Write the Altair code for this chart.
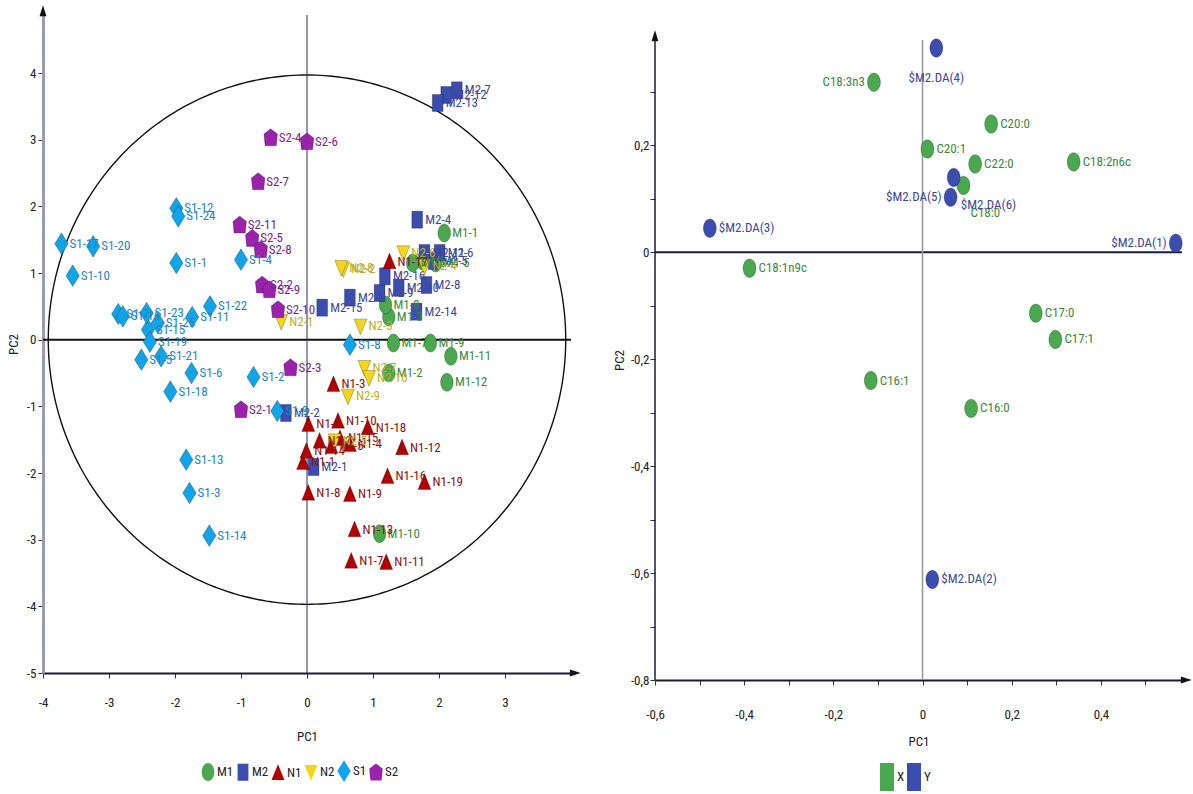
import altair as alt
import numpy as np
import pandas as pd

FONT = "Liberation Sans Narrow, Roboto Condensed, Liberation Sans, sans-serif"

# ---------------- score plot (t1 / t2) ----------------
M1_NAMES = ["M1-1", "M1-2", "M1-3", "M1-4", "M1-5", "M1-6", "M1-7", "M1-8", "M1-9", "M1-10", "M1-11", "M1-12"]
M1_PC1 = [2.08, 1.24, 1.24, 1.75, 1.95, 1.60, 1.31, 1.19, 1.87, 1.10, 2.18, 2.12]
M1_PC2 = [1.60, -0.50, 0.34, 1.18, 1.15, 1.15, -0.05, 0.52, -0.05, -2.91, -0.25, -0.64]

M2_NAMES = ["M2-1", "M2-2", "M2-3", "M2-4", "M2-5", "M2-6", "M2-7", "M2-8", "M2-9", "M2-10",
            "M2-11", "M2-12", "M2-13", "M2-14", "M2-15", "M2-16"]
M2_PC1 = [0.10, -0.32, 0.65, 1.67, 1.92, 2.01, 2.27, 1.81, 1.10, 1.39, 1.78, 2.11, 1.98, 1.66, 0.23, 1.18]
M2_PC2 = [-1.91, -1.10, 0.63, 1.80, 1.18, 1.30, 3.74, 0.82, 0.70, 0.78, 1.30, 3.67, 3.55, 0.42, 0.48, 0.95]

N1_NAMES = ["N1-1", "N1-2", "N1-3", "N1-4", "N1-5", "N1-6", "N1-7", "N1-8", "N1-9", "N1-10",
            "N1-11", "N1-12", "N1-13", "N1-14", "N1-15", "N1-16", "N1-17", "N1-18", "N1-19"]
N1_PC1 = [-0.06, 0.19, 0.40, 0.65, 0.37, 0.02, 0.67, 0.02, 0.65, 0.47, 1.20, 1.44, 0.72, -0.01, 0.50, 1.22, 1.25, 0.92, 1.78]
N1_PC2 = [-1.84, -1.52, -0.67, -1.57, -1.60, -1.27, -3.32, -2.30, -2.32, -1.22, -3.34, -1.62, -2.85, -1.67, -1.48, -2.05, 1.17, -1.32, -2.14]

N2_NAMES = ["N2-1", "N2-2", "N2-3", "N2-4", "N2-5", "N2-6", "N2-7", "N2-8", "N2-9", "N2-10"]
N2_PC1 = [-0.39, 0.55, 0.81, 1.78, 0.42, 1.46, 0.87, 0.52, 0.62, 0.94]
N2_PC2 = [0.27, 1.06, 0.20, 1.10, -1.52, 1.30, -0.42, 1.08, -0.85, -0.57]

S1_NAMES = ["S1-%d" % i for i in range(1, 26)]
S1_PC1 = [-1.98, -0.81, -1.78, -1.00, -2.51, -1.75, -2.86, 0.65, -0.45, -3.55, -1.74, -1.98, -1.83,
          -1.48, -2.41, -2.79, -3.72, -2.07, -2.38, -3.24, -2.21, -1.47, -2.43, -1.95, -2.26]
S1_PC2 = [1.15, -0.56, -2.30, 1.20, -0.30, -0.50, 0.385, -0.075, -1.07, 0.96, 0.34, 1.97, -1.80,
          -2.94, 0.15, 0.35, 1.44, -0.78, -0.03, 1.40, -0.25, 0.50, 0.40, 1.85, 0.25]

S2_NAMES = ["S2-%d" % i for i in range(1, 12)]
S2_PC1 = [-1.00, -0.68, -0.25, -0.55, -0.83, 0.00, -0.74, -0.70, -0.57, -0.44, -1.02]
S2_PC2 = [-1.05, 0.82, -0.42, 3.03, 1.52, 2.97, 2.37, 1.35, 0.75, 0.45, 1.72]

GROUPS = ["M1", "M2", "N1", "N2", "S1", "S2"]
FILL = ["#4aa84f", "#3c4db0", "#b00000", "#f3d51a", "#11a4e8", "#9a22ad"]
LABEL_COL = ["#3b8a3b", "#3a4896", "#8e1010", "#bfae1c", "#1c86c4", "#7d2291"]

# marker outlines (slightly taller than wide)
ELLIPSE = "M0,-1A0.7,1 0 1 1 0,1A0.7,1 0 1 1 0,-1Z"
SHAPES = [
    ELLIPSE,
    "M-0.6,-0.95H0.6V0.95H-0.6Z",
    "M0,-0.95L0.72,0.8L-0.72,0.8Z",
    "M0,0.95L0.72,-0.8L-0.72,-0.8Z",
    "M0,-1.2L0.75,0L0,1.2L-0.75,0Z",
    "M0,-1L0.75,-0.4L0.62,0.9L-0.62,0.9L-0.75,-0.4Z",
]

# Hotelling T2 ellipse radii
ELL_RX, ELL_RY = 3.92, 3.97

# ---------------- loading plot (p1 / p2) ----------------
X_NAMES = ["C18:3n3", "C20:0", "C20:1", "C22:0", "C18:2n6c", "C18:0", "C18:1n9c", "C17:0", "C17:1", "C16:1", "C16:0"]
X_PC1 = [-0.109, 0.154, 0.011, 0.118, 0.339, 0.092, -0.388, 0.254, 0.298, -0.116, 0.109]
X_PC2 = [0.318, 0.240, 0.193, 0.165, 0.169, 0.125, -0.030, -0.114, -0.163, -0.240, -0.292]

Y_NAMES = ["$M2.DA(1)", "$M2.DA(2)", "$M2.DA(3)", "$M2.DA(4)", "$M2.DA(5)", "$M2.DA(6)"]
Y_PC1 = [0.568, 0.022, -0.477, 0.031, 0.063, 0.070]
Y_PC2 = [0.017, -0.612, 0.045, 0.382, 0.103, 0.140]

BLOCKS = ["X", "Y"]
BLOCK_FILL = ["#4aa84f", "#3c4db0"]
BLOCK_LABEL = ["#3b8a3b", "#3a4896"]

LEFT_PLACED = ["C18:3n3", "$M2.DA(5)", "$M2.DA(1)"]
BELOW_PLACED = ["$M2.DA(4)"]
BELOW_RIGHT_PLACED = ["C18:0", "$M2.DA(6)"]


def table(entries, key, label_colors):
    rows = []
    for grp, names, xs, ys in entries:
        for n, x, y in zip(names, xs, ys):
            rows.append({"name": n, key: grp, "pc1": x, "pc2": y, "tcol": label_colors[grp]})
    return pd.DataFrame(rows)


scores = table([
    ("M1", M1_NAMES, M1_PC1, M1_PC2),
    ("M2", M2_NAMES, M2_PC1, M2_PC2),
    ("N1", N1_NAMES, N1_PC1, N1_PC2),
    ("N2", N2_NAMES, N2_PC1, N2_PC2),
    ("S1", S1_NAMES, S1_PC1, S1_PC2),
    ("S2", S2_NAMES, S2_PC1, S2_PC2),
], "group", dict(zip(GROUPS, LABEL_COL)))

loads = table([
    ("X", X_NAMES, X_PC1, X_PC2),
    ("Y", Y_NAMES, Y_PC1, Y_PC2),
], "block", dict(zip(BLOCKS, BLOCK_LABEL)))

theta = np.linspace(0, 2 * np.pi, 361)
ellipse = pd.DataFrame({"k": np.arange(theta.size),
                        "pc1": ELL_RX * np.cos(theta),
                        "pc2": ELL_RY * np.sin(theta)})
one = pd.DataFrame({"k": [0]})

INT_LABEL = ("abs(datum.value - round(datum.value)) < 0.01 ? "
             "(datum.value < 0 ? '-' : '') + format(abs(datum.value), 'd') : ''")
DEC_LABEL = ("abs(datum.value * 5 - round(datum.value * 5)) < 0.01 ? "
             "replace((datum.value < -0.001 ? '-' : '') + format(abs(datum.value), '.1~f'), '.', ',') : ''")

AXIS_TXT = dict(labelFont=FONT, labelFontSize=13, labelColor="#222", titleFont=FONT,
                titleFontSize=13, titleFontWeight="normal", titleColor="#222", grid=False,
                tickColor="#333", tickSize=5, labelFlush=False, labelOverlap=False)

ARROW_UP = "M0,-1L0.6,0.9L-0.6,0.9Z"
ARROW_RIGHT = "M1,0L-0.9,0.6L-0.9,-0.6Z"

# ---------- left panel ----------
W1, H1 = 528, 658
xs1 = alt.Scale(domain=[-4, 4], nice=False, zero=False)
ys1 = alt.Scale(domain=[-5, 4.87], nice=False, zero=False)

x_axis1 = alt.Axis(title="PC1", values=[v / 2 for v in range(-8, 8)], labelExpr=INT_LABEL,
                   domainColor="#1b1b3a", domainWidth=2, labelPadding=18, titlePadding=21, **AXIS_TXT)
y_axis1 = alt.Axis(title="PC2", values=[v / 2 for v in range(-10, 10)], labelExpr=INT_LABEL,
                   domainColor="#9b9bb3", domainWidth=3, labelPadding=2, titlePadding=6, **AXIS_TXT)

legend1 = alt.Legend(title=None, orient="none", legendX=156, legendY=747, direction="horizontal",
                     columns=6, labelFont=FONT, labelFontSize=13, labelColor="#222",
                     symbolSize=324, labelOffset=0, columnPadding=0, symbolStrokeWidth=0)

ell_layer = alt.Chart(ellipse).mark_line(color="#111", strokeWidth=1.4).encode(
    x=alt.X("pc1:Q", scale=xs1, axis=x_axis1),
    y=alt.Y("pc2:Q", scale=ys1, axis=y_axis1),
    order="k:Q",
)
h0_1 = alt.Chart(one).mark_rule(color="#111", strokeWidth=2).encode(y=alt.datum(0))
v0_1 = alt.Chart(one).mark_rule(color="#2b2c5c", strokeWidth=1).encode(x=alt.datum(0))

pts1 = alt.Chart(scores).mark_point(filled=True, size=324, opacity=1, stroke="#000",
                                    strokeWidth=0.8, strokeOpacity=0.3).encode(
    x="pc1:Q", y="pc2:Q",
    color=alt.Color("group:N", scale=alt.Scale(domain=GROUPS, range=FILL), legend=legend1),
    shape=alt.Shape("group:N", scale=alt.Scale(domain=GROUPS, range=SHAPES), legend=legend1),
)
txt1 = alt.Chart(scores).mark_text(align="left", baseline="middle", dx=8, font=FONT, fontSize=13).encode(
    x="pc1:Q", y="pc2:Q", text="name:N",
    fill=alt.Fill("tcol:N", scale=None),
)
arrow_up1 = alt.Chart(one).mark_point(shape=ARROW_UP, filled=True, size=130, color="#111", opacity=1).encode(
    x=alt.value(0), y=alt.value(-4))
arrow_r1 = alt.Chart(one).mark_point(shape=ARROW_RIGHT, filled=True, size=130, color="#111", opacity=1).encode(
    x=alt.value(W1 + 4), y=alt.value(H1))

left = alt.layer(ell_layer, h0_1, v0_1, pts1, txt1, arrow_up1, arrow_r1).properties(width=W1, height=H1)

# ---------- right panel ----------
# the plot area starts at the same height as the left one; the axes begin lower
W2, H2 = 527, 665
Y2_TOP = 0.397
xs2 = alt.Scale(domain=[-0.6, 0.582], nice=False, zero=False)
ys2 = alt.Scale(domain=[-0.8, 0.4438], nice=False, zero=False)

x_axis2 = alt.Axis(title="PC1", values=[round(v / 10, 1) for v in range(-6, 6)], labelExpr=DEC_LABEL,
                   domainColor="#1b1b3a", domainWidth=2, labelPadding=23, titlePadding=14, **AXIS_TXT)
y_axis2 = alt.Axis(title="PC2", values=[round(v / 10, 1) for v in range(-8, 4)], labelExpr=DEC_LABEL,
                   domain=False, labelPadding=1, titlePadding=4, titleY=345, **AXIS_TXT)

legend2 = alt.Legend(title=None, orient="none", legendX=225, legendY=755, direction="horizontal",
                     columns=2, labelFont=FONT, labelFontSize=13, labelColor="#222",
                     symbolType="M-1,-2H1V2H-1Z", symbolSize=196, symbolStrokeWidth=0,
                     labelOffset=3, columnPadding=2)

y_line2 = alt.Chart(one).mark_rule(color="#1b1b3a", strokeWidth=1.5).encode(
    x=alt.datum(-0.6), y=alt.datum(-0.8), y2=alt.datum(Y2_TOP))
h0_2 = alt.Chart(one).mark_rule(color="#1b1b3a", strokeWidth=2).encode(
    y=alt.Y("k:Q", scale=ys2, axis=y_axis2))
v0_2 = alt.Chart(one).mark_rule(color="#9a9a9a", strokeWidth=1.6).encode(
    x=alt.X("k:Q", scale=xs2, axis=x_axis2), y=alt.datum(-0.8), y2=alt.datum(Y2_TOP))

pts2 = alt.Chart(loads).mark_point(shape=ELLIPSE, filled=True, size=340, opacity=1, stroke="#000",
                                   strokeWidth=0.8, strokeOpacity=0.3).encode(
    x="pc1:Q", y="pc2:Q",
    color=alt.Color("block:N", scale=alt.Scale(domain=BLOCKS, range=BLOCK_FILL), legend=legend2),
)


def load_labels(**kw):
    return alt.Chart(loads).mark_text(baseline="middle", font=FONT, fontSize=13, **kw).encode(
        x="pc1:Q", y="pc2:Q", text="name:N",
        fill=alt.Fill("tcol:N", scale=None),
    )


placed = LEFT_PLACED + BELOW_PLACED + BELOW_RIGHT_PLACED
txt_r = load_labels(align="left", dx=9).transform_filter(
    ~alt.FieldOneOfPredicate(field="name", oneOf=placed))
txt_l = load_labels(align="right", dx=-9).transform_filter(
    alt.FieldOneOfPredicate(field="name", oneOf=LEFT_PLACED))
txt_b = load_labels(align="center", dy=30).transform_filter(
    alt.FieldOneOfPredicate(field="name", oneOf=BELOW_PLACED))
txt_br = load_labels(align="left", dx=7, dy=28).transform_filter(
    alt.FieldOneOfPredicate(field="name", oneOf=BELOW_RIGHT_PLACED))

arrow_up2 = alt.Chart(one).mark_point(shape=ARROW_UP, filled=True, size=130, color="#111", opacity=1,
                                      yOffset=-4).encode(x=alt.datum(-0.6), y=alt.datum(Y2_TOP))
arrow_r2 = alt.Chart(one).mark_point(shape=ARROW_RIGHT, filled=True, size=130, color="#111", opacity=1).encode(
    x=alt.value(W2 + 4), y=alt.value(H2))

right = alt.layer(y_line2, h0_2, v0_2, pts2, txt_r, txt_l, txt_b, txt_br, arrow_up2, arrow_r2).properties(
    width=W2, height=H2)

chart = alt.hconcat(left, right, spacing=32).resolve_scale(
    color="independent", shape="independent"
).resolve_legend(color="independent", shape="independent").properties(
    padding={"left": 7, "top": 5, "right": 0, "bottom": 0}, background="white"
).configure_view(stroke=None)

chart.save("out.html", embed_options={"renderer": "svg", "actions": False})
